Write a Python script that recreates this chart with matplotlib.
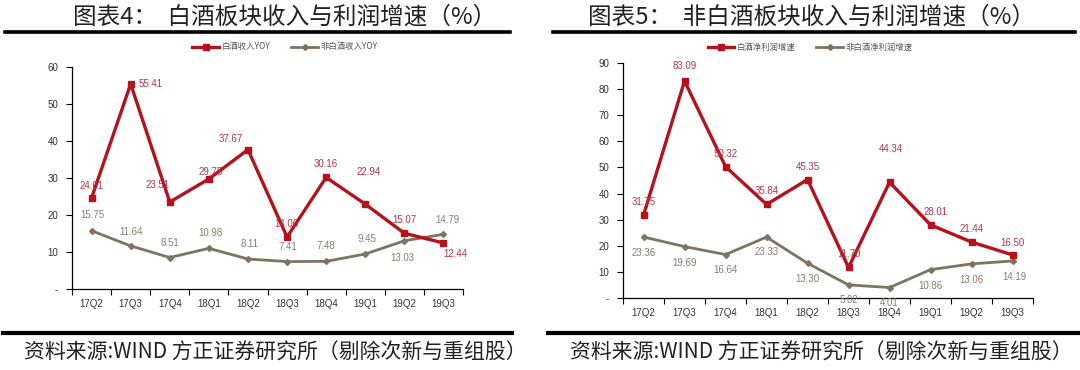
import numpy as np
import matplotlib
matplotlib.use("Agg")
import matplotlib.pyplot as plt
from matplotlib.ticker import FixedLocator, FuncFormatter

plt.rcParams['font.family'] = ['Noto Sans CJK SC', 'DejaVu Sans']

# ---------------- data ----------------
quarters = ["17Q2", "17Q3", "17Q4", "18Q1", "18Q2", "18Q3", "18Q4", "19Q1", "19Q2", "19Q3"]

baijiu_rev_yoy = [24.61, 55.41, 23.51, 29.75, 37.67, 14.06, 30.16, 22.94, 15.07, 12.44]
other_rev_yoy = [15.75, 11.64, 8.51, 10.98, 8.11, 7.41, 7.48, 9.45, 13.03, 14.79]

baijiu_profit_yoy = [31.75, 83.09, 50.32, 35.84, 45.35, 11.70, 44.34, 28.01, 21.44, 16.50]
other_profit_yoy = [23.36, 19.69, 16.64, 23.33, 13.30, 5.02, 4.01, 10.86, 13.06, 14.19]

titles = ["图表4：  白酒板块收入与利润增速（%）", "图表5：  非白酒板块收入与利润增速（%）"]
legend_names = [("白酒收入YOY", "非白酒收入YOY"), ("白酒净利润增速", "非白酒净利润增速")]
source = "资料来源:WIND 方正证券研究所（剔除次新与重组股）"

# label offsets (pixels) for the data labels
off_l_red = [(0, 12), (20, 0), (-12, 17), (2, 7), (-17, 11), (-1, 13), (0, 13), (3, 32), (0, 13), (12, -11)]
off_l_brn = [(1, 16), (0, 14), (0, 15), (2, 15), (2, 15), (1, 15), (0, 15), (2, 15), (-2, -17), (4, 14)]
off_r_red = [(0, 13), (0, 15), (0, 13), (0, 13), (0, 13), (0, 13), (1, 33), (5, 13), (0, 13), (0, 12)]
off_r_brn = [(0, -16), (0, -16), (0, -15), (0, -15), (0, -16), (0, -15), (0, -15), (0, -16), (0, -16), (2, -16)]

RED = "#b5121b"
BROWN = "#7f7361"
RED_TXT = "#b8344a"
BROWN_TXT = "#8a7d70"
NUM_FONT = "Liberation Sans"

fig = plt.figure(figsize=(10.8, 3.7), dpi=100)


def px(x, y):
    return x / 1080, 1 - y / 370


def draw_panel(rect, red, brown, ymax, names, offs_red, offs_brn):
    ax = fig.add_axes(rect)
    x = np.arange(len(quarters))
    ax.plot(x, red, color=RED, lw=2.4, marker="s", ms=5, label=names[0], zorder=3)
    ax.plot(x, brown, color=BROWN, lw=2.0, marker="D", ms=3, label=names[1], zorder=2)
    for xi, v, o in zip(x, red, offs_red):
        ax.annotate(f"{v:.2f}", (xi, v), xytext=o, textcoords="offset pixels",
                    ha="center", va="center", fontsize=7, color=RED_TXT, family=NUM_FONT)
    for xi, v, o in zip(x, brown, offs_brn):
        ax.annotate(f"{v:.2f}", (xi, v), xytext=o, textcoords="offset pixels",
                    ha="center", va="center", fontsize=7, color=BROWN_TXT, family=NUM_FONT)
    ax.set_xlim(-0.5, len(quarters) - 0.5)
    ax.set_ylim(0, ymax)
    ax.set_xticks(x)
    ax.set_xticklabels(quarters, fontsize=7, family=NUM_FONT, color="#333333")
    ax.xaxis.set_minor_locator(FixedLocator(np.arange(-0.5, len(quarters), 1.0)))
    ax.tick_params(axis="x", which="major", length=0, pad=7)
    ax.tick_params(axis="x", which="minor", length=4, width=0.8, direction="out")
    ax.set_yticks(np.arange(0, ymax + 1, 10))
    ax.yaxis.set_major_formatter(FuncFormatter(lambda v, p: "-" if v == 0 else f"{v:.0f}"))
    ax.tick_params(axis="y", length=4, width=0.8, labelsize=7, pad=6, labelcolor="#333333")
    for t in ax.get_yticklabels():
        t.set_family(NUM_FONT)
    for s in ("top", "right"):
        ax.spines[s].set_visible(False)
    for s in ("left", "bottom"):
        ax.spines[s].set_linewidth(0.9)
    return ax


ax1 = draw_panel([0.0667, 0.2189, 0.362, 0.600], baijiu_rev_yoy, other_rev_yoy, 60,
                 legend_names[0], off_l_red, off_l_brn)
ax2 = draw_panel([0.5769, 0.1946, 0.3796, 0.6351], baijiu_profit_yoy, other_profit_yoy, 90,
                 legend_names[1], off_r_red, off_r_brn)

for ax, cx in ((ax1, 285), (ax2, 810)):
    fig.legend(*ax.get_legend_handles_labels(), loc="center", bbox_to_anchor=px(cx, 47),
               ncol=2, frameon=False, fontsize=6, handlelength=3.2, columnspacing=2.5,
               handletextpad=0.3, labelcolor="#555555")

# titles, rules and source notes
for title, cx, (x0, x1), (b0, b1), sx in ((titles[0], 285, (5, 510), (3, 512), 24),
                                         (titles[1], 812, (553, 1075), (548, 1078), 570)):
    fig.text(*px(cx, 17), title, ha="center", va="center", fontsize=17, color="#222222")
    fig.add_artist(plt.Line2D([x0 / 1080, x1 / 1080], [1 - 32 / 370] * 2, color="black", lw=2.6))
    fig.add_artist(plt.Line2D([b0 / 1080, b1 / 1080], [1 - 333 / 370] * 2, color="black", lw=3.0))
    fig.text(*px(sx, 353), source, ha="left", va="center", fontsize=15, style="italic", color="#222222")

fig.savefig("out.png", dpi=100)
